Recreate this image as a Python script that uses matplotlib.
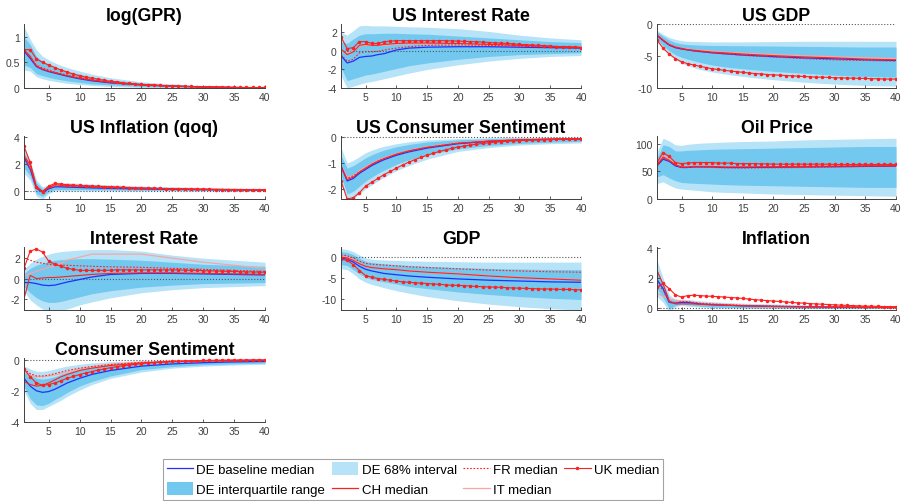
import matplotlib.pyplot as plt
from matplotlib.patches import Patch
from matplotlib.lines import Line2D

plt.rcParams['font.family'] = ['Liberation Sans', 'DejaVu Sans']

# horizons
H = [1, 2, 3, 4, 5, 6, 7, 8, 10, 12, 15, 20, 25, 30, 35, 40]
H_UK = list(range(1, 41))

# log(GPR)
gpr_hi68 = [1.2, 0.95, 0.75, 0.62, 0.55, 0.49, 0.44, 0.40, 0.33, 0.27, 0.2, 0.12, 0.08, 0.05, 0.03, 0.02]
gpr_lo68 = [0.35, 0.33, 0.22, 0.18, 0.15, 0.13, 0.11, 0.09, 0.07, 0.05, 0.03, 0.01, 0.0, 0.0, 0.0, 0.0]
gpr_hi50 = [1.0, 0.85, 0.62, 0.52, 0.46, 0.41, 0.37, 0.33, 0.27, 0.22, 0.16, 0.1, 0.06, 0.04, 0.02, 0.01]
gpr_lo50 = [0.45, 0.4, 0.28, 0.24, 0.21, 0.18, 0.16, 0.14, 0.11, 0.08, 0.06, 0.03, 0.02, 0.01, 0.005, 0.0]
gpr_de = [0.72, 0.58, 0.42, 0.36, 0.32, 0.29, 0.26, 0.23, 0.18, 0.14, 0.1, 0.06, 0.035, 0.02, 0.01, 0.005]
gpr_ch = [0.75, 0.62, 0.43, 0.37, 0.33, 0.3, 0.27, 0.24, 0.19, 0.15, 0.11, 0.06, 0.04, 0.02, 0.01, 0.005]
gpr_fr = [0.72, 0.6, 0.45, 0.39, 0.35, 0.31, 0.28, 0.25, 0.2, 0.16, 0.11, 0.06, 0.035, 0.02, 0.01, 0.005]
gpr_it = [0.74, 0.6, 0.44, 0.38, 0.34, 0.3, 0.27, 0.24, 0.19, 0.15, 0.11, 0.06, 0.035, 0.02, 0.01, 0.005]
gpr_uk = [0.75, 0.75, 0.57, 0.5, 0.45, 0.4, 0.35, 0.31, 0.27, 0.24, 0.21, 0.19, 0.17, 0.15, 0.13, 0.12,
          0.1, 0.09, 0.08, 0.07, 0.065, 0.06, 0.05, 0.045, 0.04, 0.035, 0.03, 0.03, 0.025, 0.02,
          0.02, 0.02, 0.015, 0.015, 0.01, 0.01, 0.01, 0.01, 0.01, 0.01]

# US Interest Rate
usr_hi68 = [2.0, 1.7, 2.2, 2.7, 2.75, 2.7, 2.7, 2.7, 2.65, 2.6, 2.55, 2.4, 2.1, 1.7, 1.4, 1.2]
usr_lo68 = [-2.7, -4.0, -3.8, -3.6, -3.4, -3.3, -3.15, -3.0, -2.7, -2.4, -2.0, -1.5, -1.1, -0.8, -0.6, -0.5]
usr_hi50 = [1.0, 0.8, 1.3, 1.7, 1.85, 1.85, 1.88, 1.9, 1.9, 1.85, 1.8, 1.6, 1.4, 1.2, 1.0, 0.9]
usr_lo50 = [-1.8, -3.2, -3.0, -2.8, -2.6, -2.5, -2.35, -2.2, -1.9, -1.6, -1.3, -0.9, -0.6, -0.4, -0.3, -0.2]
usr_de = [-0.5, -1.3, -1.1, -0.7, -0.6, -0.55, -0.4, -0.3, 0.1, 0.3, 0.4, 0.45, 0.45, 0.4, 0.35, 0.3]
usr_fr = [-0.4, -1.1, -0.9, -0.2, -0.1, -0.1, -0.05, 0.1, 0.3, 0.45, 0.6, 0.65, 0.6, 0.5, 0.4, 0.35]
usr_ch = [0.2, -0.4, -0.1, 0.6, 0.7, 0.6, 0.6, 0.7, 0.8, 0.85, 0.85, 0.8, 0.7, 0.6, 0.5, 0.4]
usr_it = [0.0, -0.3, 0.0, 0.5, 0.6, 0.6, 0.6, 0.6, 0.7, 0.75, 0.75, 0.7, 0.6, 0.5, 0.45, 0.4]
usr_uk = [1.5, 0.25, 0.35, 1.0, 1.0, 0.8, 0.8, 1.0, 1.05, 1.1, 1.1, 1.1, 1.1, 1.1, 1.1, 1.1,
          1.1, 1.1, 1.08, 1.05, 1.03, 1.0, 0.98, 0.95, 0.9, 0.87, 0.84, 0.8, 0.77, 0.7,
          0.67, 0.63, 0.6, 0.57, 0.5, 0.47, 0.44, 0.41, 0.38, 0.35]

# US GDP
usg_hi68 = [-1.0, -1.6, -2.1, -2.4, -2.6, -2.7, -2.72, -2.75, -2.8, -2.8, -2.8, -2.75, -2.7, -2.7, -2.7, -2.7]
usg_lo68 = [-2.8, -3.8, -4.8, -5.6, -6.1, -6.5, -6.8, -7.1, -7.5, -7.8, -8.2, -8.7, -9.1, -9.4, -9.6, -9.7]
usg_hi50 = [-1.2, -1.9, -2.5, -2.9, -3.1, -3.2, -3.25, -3.3, -3.35, -3.38, -3.4, -3.45, -3.5, -3.55, -3.6, -3.6]
usg_lo50 = [-2.4, -3.4, -4.2, -4.8, -5.2, -5.5, -5.75, -6.0, -6.4, -6.7, -7.0, -7.4, -7.7, -8.0, -8.2, -8.3]
usg_de = [-1.8, -2.6, -3.3, -3.7, -3.9, -4.05, -4.2, -4.3, -4.5, -4.65, -4.85, -5.1, -5.3, -5.45, -5.6, -5.7]
usg_fr = [-1.8, -2.6, -3.3, -3.7, -3.9, -4.05, -4.2, -4.3, -4.5, -4.65, -4.9, -5.15, -5.4, -5.6, -5.7, -5.8]
usg_ch = [-1.7, -2.5, -3.2, -3.6, -3.8, -4.0, -4.1, -4.2, -4.4, -4.5, -4.7, -4.95, -5.15, -5.3, -5.5, -5.6]
usg_it = [-1.6, -2.5, -3.2, -3.6, -3.8, -3.95, -4.05, -4.1, -4.25, -4.4, -4.55, -4.75, -4.95, -5.1, -5.25, -5.4]
usg_uk = [-2.5, -3.8, -4.7, -5.4, -5.9, -6.2, -6.4, -6.6, -6.8, -7.0, -7.1, -7.25, -7.35, -7.45, -7.55, -7.65,
          -7.75, -7.8, -7.9, -7.95, -8.0, -8.05, -8.1, -8.15, -8.2, -8.25, -8.3, -8.3, -8.35, -8.4,
          -8.4, -8.45, -8.45, -8.5, -8.5, -8.55, -8.55, -8.6, -8.6, -8.6]

# US Inflation (qoq)
usi_hi68 = [3.2, 2.2, 0.8, 0.3, 0.45, 0.6, 0.6, 0.6, 0.55, 0.5, 0.45, 0.35, 0.3, 0.25, 0.2, 0.18]
usi_lo68 = [1.3, 0.8, -0.4, -0.6, -0.2, 0.0, 0.0, 0.0, 0.0, 0.0, 0.0, 0.0, 0.0, 0.0, 0.0, 0.0]
usi_hi50 = [2.9, 2.0, 0.6, 0.15, 0.35, 0.5, 0.5, 0.5, 0.45, 0.42, 0.38, 0.3, 0.25, 0.2, 0.17, 0.15]
usi_lo50 = [1.7, 1.1, -0.2, -0.4, -0.05, 0.1, 0.1, 0.1, 0.1, 0.08, 0.07, 0.05, 0.04, 0.03, 0.02, 0.02]
usi_de = [2.5, 1.6, 0.2, -0.1, 0.15, 0.3, 0.3, 0.28, 0.25, 0.22, 0.18, 0.14, 0.11, 0.09, 0.07, 0.06]
usi_ch = [2.6, 1.9, 0.3, -0.05, 0.25, 0.45, 0.42, 0.4, 0.36, 0.32, 0.27, 0.2, 0.15, 0.12, 0.1, 0.08]
usi_fr = [2.4, 1.6, 0.2, -0.1, 0.2, 0.35, 0.35, 0.32, 0.3, 0.27, 0.22, 0.17, 0.13, 0.1, 0.08, 0.07]
usi_it = [2.7, 1.8, 0.25, -0.05, 0.2, 0.4, 0.4, 0.37, 0.33, 0.3, 0.25, 0.19, 0.15, 0.12, 0.1, 0.08]
usi_uk = [3.3, 2.1, 0.3, -0.05, 0.35, 0.55, 0.5, 0.45, 0.43, 0.4, 0.38, 0.36, 0.34, 0.32, 0.3, 0.28,
          0.26, 0.24, 0.22, 0.21, 0.2, 0.19, 0.18, 0.17, 0.16, 0.15, 0.14, 0.13, 0.12, 0.12,
          0.11, 0.1, 0.1, 0.09, 0.09, 0.08, 0.08, 0.07, 0.07, 0.07]

# US Consumer Sentiment
usc_hi68 = [-0.4, -1.0, -0.9, -0.75, -0.6, -0.5, -0.42, -0.35, -0.25, -0.18, -0.1, -0.05, -0.02, -0.01, 0.0, 0.0]
usc_lo68 = [-1.8, -2.45, -2.4, -2.2, -2.0, -1.85, -1.7, -1.55, -1.3, -1.1, -0.85, -0.55, -0.4, -0.3, -0.25, -0.22]
usc_hi50 = [-0.7, -1.2, -1.1, -0.95, -0.8, -0.68, -0.58, -0.5, -0.37, -0.28, -0.18, -0.1, -0.05, -0.03, -0.02, -0.01]
usc_lo50 = [-1.5, -2.2, -2.1, -1.9, -1.7, -1.55, -1.4, -1.28, -1.05, -0.88, -0.68, -0.45, -0.32, -0.24, -0.19, -0.16]
usc_de = [-1.1, -1.7, -1.6, -1.4, -1.25, -1.1, -0.98, -0.87, -0.7, -0.57, -0.42, -0.25, -0.16, -0.11, -0.08, -0.07]
usc_ch = [-1.15, -1.65, -1.55, -1.35, -1.2, -1.05, -0.93, -0.83, -0.66, -0.53, -0.39, -0.23, -0.15, -0.1, -0.07, -0.06]
usc_fr = [-1.2, -1.6, -1.5, -1.35, -1.2, -1.05, -0.93, -0.83, -0.66, -0.53, -0.39, -0.23, -0.15, -0.1, -0.07, -0.06]
usc_it = [-1.1, -1.55, -1.5, -1.3, -1.15, -1.02, -0.9, -0.8, -0.64, -0.52, -0.38, -0.22, -0.14, -0.1, -0.07, -0.06]
usc_uk = [-1.7, -2.4, -2.35, -2.15, -1.9, -1.75, -1.6, -1.45, -1.33, -1.2, -1.08, -0.97, -0.87, -0.78, -0.7, -0.62,
          -0.55, -0.49, -0.43, -0.38, -0.34, -0.3, -0.27, -0.24, -0.21, -0.19, -0.17, -0.15, -0.14, -0.13,
          -0.12, -0.11, -0.1, -0.09, -0.09, -0.08, -0.08, -0.07, -0.07, -0.07]

# Oil Price
oil_hi68 = [85, 110, 105, 98, 97, 99, 100, 101, 102, 103, 104, 105, 107, 108, 109, 110]
oil_lo68 = [28, 31, 25, 20, 18, 17, 16, 15, 13, 12, 11, 9, 8, 7, 6, 5]
oil_hi50 = [75, 98, 95, 87, 87, 88, 88.5, 89, 90, 90.5, 91, 92, 93, 94, 95, 95]
oil_lo50 = [40, 44, 38, 33, 30, 29, 28.5, 28, 27, 26, 25, 24, 23, 22, 21, 21]
oil_de = [60, 72, 68, 60, 57, 57, 58, 58, 58, 57, 57, 57.5, 58, 58.5, 59, 59.5]
oil_ch = [62, 76, 70, 62, 58, 58, 59, 59, 59, 58, 58, 58.5, 59, 59.5, 60, 60]
oil_fr = [60, 74, 69, 61, 57, 57, 58, 58, 57, 56.5, 56, 56.5, 57, 58, 59, 60]
oil_it = [62, 78, 72, 63, 59, 59, 60, 60, 60, 59, 59, 59.5, 60, 60.5, 61, 61]
oil_uk = [66, 84, 77, 66, 64, 65, 66, 66, 66, 66, 65, 65, 65, 64, 64, 64,
          64, 63.5, 63.5, 63, 63, 63, 63, 63, 63, 63, 63, 63, 63, 62.5,
          62.5, 62.5, 62.5, 62.5, 62.5, 62.5, 62.5, 62.5, 62.5, 62.5]

# Interest Rate
ir_hi68 = [0.9, 1.5, 1.9, 2.2, 2.4, 2.55, 2.65, 2.7, 2.8, 2.85, 2.85, 2.7, 2.3, 2.0, 1.8, 1.6]
ir_lo68 = [-1.2, -2.1, -2.6, -3.0, -3.2, -3.2, -3.1, -3.0, -2.6, -2.3, -1.9, -1.4, -1.1, -0.9, -0.8, -0.7]
ir_hi50 = [0.5, 1.0, 1.3, 1.5, 1.7, 1.8, 1.85, 1.9, 1.95, 1.95, 1.9, 1.8, 1.6, 1.4, 1.3, 1.2]
ir_lo50 = [-0.8, -1.4, -1.9, -2.2, -2.35, -2.35, -2.25, -2.1, -1.8, -1.5, -1.2, -0.85, -0.65, -0.5, -0.45, -0.4]
ir_de = [-0.4, -0.4, -0.5, -0.65, -0.7, -0.65, -0.5, -0.35, -0.1, 0.15, 0.4, 0.5, 0.5, 0.45, 0.4, 0.35]
ir_fr = [2.0, 1.8, 1.6, 1.5, 1.4, 1.35, 1.32, 1.3, 1.25, 1.2, 1.15, 1.1, 1.0, 0.9, 0.8, 0.7]
ir_ch = [-2.0, 0.3, 0.0, 0.05, 0.1, 0.1, 0.15, 0.2, 0.3, 0.4, 0.5, 0.55, 0.55, 0.5, 0.45, 0.4]
ir_it = [0.2, 0.5, 0.7, 0.9, 1.1, 1.2, 1.5, 1.8, 2.1, 2.4, 2.4, 2.4, 2.0, 1.6, 1.3, 1.0]
ir_uk = [1.0, 2.7, 2.9, 2.6, 1.7, 1.4, 1.2, 1.0, 0.9, 0.8, 0.8, 0.8, 0.8, 0.8, 0.82, 0.85,
         0.85, 0.85, 0.85, 0.85, 0.85, 0.85, 0.85, 0.85, 0.85, 0.85, 0.82, 0.8, 0.8, 0.78,
         0.75, 0.75, 0.72, 0.7, 0.7, 0.68, 0.65, 0.65, 0.62, 0.62]

# GDP
gdp_hi68 = [2.0, 1.8, 1.3, 0.5, -0.2, -0.5, -0.6, -0.7, -0.8, -0.9, -1.0, -1.1, -1.2, -1.2, -1.2, -1.2]
gdp_lo68 = [-2.8, -3.0, -4.0, -5.2, -6.0, -6.5, -6.9, -7.3, -8.0, -8.6, -9.4, -10.4, -11.2, -11.8, -12.3, -12.6]
gdp_hi50 = [1.3, 1.1, 0.6, -0.3, -1.0, -1.3, -1.45, -1.6, -1.8, -2.0, -2.2, -2.5, -2.7, -2.85, -2.95, -3.0]
gdp_lo50 = [-1.8, -2.0, -3.0, -4.0, -4.8, -5.3, -5.6, -5.9, -6.4, -7.0, -7.5, -8.3, -8.9, -9.4, -9.8, -10.1]
gdp_de = [-0.3, -0.5, -1.2, -2.2, -2.9, -3.3, -3.6, -3.9, -4.2, -4.5, -4.8, -5.2, -5.5, -5.7, -5.9, -6.0]
gdp_fr = [0.5, 0.3, -0.2, -1.0, -1.5, -1.7, -1.8, -1.9, -2.1, -2.3, -2.5, -2.8, -3.1, -3.3, -3.5, -3.6]
gdp_ch = [0.0, -0.2, -0.8, -1.6, -2.2, -2.5, -2.65, -2.8, -3.0, -3.3, -3.6, -4.0, -4.5, -4.9, -5.2, -5.5]
gdp_it = [0.2, 0.0, -0.6, -1.5, -2.2, -2.5, -2.65, -2.8, -3.0, -3.3, -3.6, -4.0, -4.5, -4.9, -5.2, -5.4]
gdp_uk = [-0.5, -0.8, -1.8, -3.2, -4.4, -4.8, -5.1, -5.3, -5.5, -5.7, -5.9, -6.0, -6.1, -6.2, -6.3, -6.4,
          -6.5, -6.6, -6.7, -6.75, -6.8, -6.9, -7.0, -7.05, -7.1, -7.15, -7.2, -7.3, -7.35, -7.4,
          -7.45, -7.5, -7.55, -7.6, -7.6, -7.65, -7.7, -7.7, -7.75, -7.8]

# Inflation
inf_hi68 = [3.2, 2.0, 0.9, 0.6, 0.6, 0.6, 0.55, 0.5, 0.45, 0.4, 0.35, 0.3, 0.25, 0.2, 0.18, 0.15]
inf_lo68 = [0.8, 0.4, -0.2, 0.1, 0.2, 0.15, 0.12, 0.1, 0.05, 0.03, 0.02, 0.01, 0.0, 0.0, 0.0, 0.0]
inf_hi50 = [2.6, 1.6, 0.7, 0.5, 0.5, 0.5, 0.42, 0.38, 0.33, 0.3, 0.25, 0.2, 0.17, 0.14, 0.12, 0.1]
inf_lo50 = [1.3, 0.7, 0.0, 0.2, 0.3, 0.25, 0.2, 0.15, 0.1, 0.08, 0.06, 0.04, 0.03, 0.02, 0.02, 0.02]
inf_de = [1.9, 1.3, 0.4, 0.35, 0.4, 0.4, 0.35, 0.3, 0.25, 0.22, 0.18, 0.14, 0.11, 0.09, 0.08, 0.07]
inf_ch = [2.5, 1.6, 0.5, 0.3, 0.3, 0.3, 0.3, 0.27, 0.24, 0.21, 0.17, 0.13, 0.1, 0.08, 0.07, 0.06]
inf_fr = [1.7, 1.2, 0.4, 0.4, 0.45, 0.45, 0.4, 0.35, 0.3, 0.26, 0.21, 0.16, 0.12, 0.1, 0.08, 0.07]
inf_it = [1.0, 0.8, 0.6, 0.55, 0.5, 0.45, 0.4, 0.35, 0.3, 0.26, 0.21, 0.16, 0.12, 0.1, 0.08, 0.07]
inf_uk = [1.4, 1.65, 1.3, 0.9, 0.75, 0.85, 0.87, 0.85, 0.82, 0.8, 0.78, 0.75, 0.72, 0.7, 0.66, 0.62,
          0.58, 0.55, 0.52, 0.49, 0.46, 0.43, 0.4, 0.37, 0.35, 0.32, 0.3, 0.28, 0.26, 0.24,
          0.22, 0.2, 0.19, 0.17, 0.16, 0.15, 0.14, 0.13, 0.12, 0.12]

# Consumer Sentiment
cs_hi68 = [-0.4, -0.6, -0.75, -0.75, -0.7, -0.6, -0.5, -0.42, -0.3, -0.22, -0.14, -0.07, -0.04, -0.02, -0.01, -0.01]
cs_lo68 = [-2.0, -2.8, -3.2, -3.2, -3.0, -2.8, -2.6, -2.35, -1.95, -1.6, -1.2, -0.8, -0.55, -0.42, -0.35, -0.3]
cs_hi50 = [-0.7, -1.0, -1.2, -1.25, -1.2, -1.1, -0.95, -0.82, -0.6, -0.45, -0.3, -0.16, -0.1, -0.06, -0.04, -0.03]
cs_lo50 = [-1.7, -2.5, -2.9, -2.95, -2.8, -2.55, -2.35, -2.1, -1.7, -1.4, -1.05, -0.65, -0.45, -0.33, -0.27, -0.23]
cs_de = [-1.2, -1.7, -2.0, -2.1, -2.05, -1.9, -1.7, -1.5, -1.2, -0.95, -0.7, -0.42, -0.28, -0.2, -0.15, -0.12]
cs_ch = [-1.4, -1.6, -1.7, -1.65, -1.5, -1.3, -1.1, -0.95, -0.7, -0.55, -0.38, -0.22, -0.14, -0.09, -0.07, -0.05]
cs_fr = [-0.6, -0.9, -1.05, -1.05, -1.0, -0.9, -0.8, -0.7, -0.55, -0.45, -0.32, -0.18, -0.11, -0.07, -0.05, -0.04]
cs_it = [-0.8, -1.0, -1.1, -1.1, -1.05, -0.98, -0.9, -0.8, -0.6, -0.45, -0.3, -0.17, -0.1, -0.06, -0.04, -0.03]
cs_uk = [-0.6, -1.1, -1.5, -1.65, -1.6, -1.5, -1.35, -1.2, -1.08, -0.96, -0.86, -0.77, -0.68, -0.6, -0.52, -0.46,
         -0.4, -0.35, -0.3, -0.26, -0.22, -0.19, -0.16, -0.14, -0.12, -0.1, -0.09, -0.08, -0.07, -0.06,
         -0.05, -0.05, -0.04, -0.04, -0.03, -0.03, -0.03, -0.02, -0.02, -0.02]

titles = ['log(GPR)', 'US Interest Rate', 'US GDP', 'US Inflation (qoq)', 'US Consumer Sentiment',
          'Oil Price', 'Interest Rate', 'GDP', 'Inflation', 'Consumer Sentiment']

panels = [
    (gpr_hi68, gpr_lo68, gpr_hi50, gpr_lo50, gpr_de, gpr_fr, gpr_ch, gpr_it, gpr_uk),
    (usr_hi68, usr_lo68, usr_hi50, usr_lo50, usr_de, usr_fr, usr_ch, usr_it, usr_uk),
    (usg_hi68, usg_lo68, usg_hi50, usg_lo50, usg_de, usg_fr, usg_ch, usg_it, usg_uk),
    (usi_hi68, usi_lo68, usi_hi50, usi_lo50, usi_de, usi_fr, usi_ch, usi_it, usi_uk),
    (usc_hi68, usc_lo68, usc_hi50, usc_lo50, usc_de, usc_fr, usc_ch, usc_it, usc_uk),
    (oil_hi68, oil_lo68, oil_hi50, oil_lo50, oil_de, oil_fr, oil_ch, oil_it, oil_uk),
    (ir_hi68, ir_lo68, ir_hi50, ir_lo50, ir_de, ir_fr, ir_ch, ir_it, ir_uk),
    (gdp_hi68, gdp_lo68, gdp_hi50, gdp_lo50, gdp_de, gdp_fr, gdp_ch, gdp_it, gdp_uk),
    (inf_hi68, inf_lo68, inf_hi50, inf_lo50, inf_de, inf_fr, inf_ch, inf_it, inf_uk),
    (cs_hi68, cs_lo68, cs_hi50, cs_lo50, cs_de, cs_fr, cs_ch, cs_it, cs_uk),
]

ylims = [(0, 1.25), (-4, 2.9), (-10, 0), (-0.6, 4.05), (-2.4, 0.05),
         (0, 114), (-3.1, 3.1), (-12.6, 2.4), (-0.1, 4.05), (-4, 0.1)]
yticks = [[0, 0.5, 1], [-4, -2, 0, 2], [-10, -5, 0], [0, 2, 4], [-2, -1, 0],
          [0, 50, 100], [-2, 0, 2], [-10, -5, 0], [0, 2, 4], [-4, -2, 0]]

# pixel layout (left, top, right, bottom)
W, Hpx = 901, 502
cols = [(24, 265), (341, 581), (657, 896)]
rows = [(25, 89), (137, 200), (248, 311), (359, 423)]

C68 = '#b6e3f7'
C50 = '#72c8ee'
BLUE = '#2030ff'
RED = '#ff2020'
PINK = '#f7a5a5'

fig = plt.figure(figsize=(W / 100, Hpx / 100), dpi=100)

for k, (hi68, lo68, hi50, lo50, de, fr, ch, it, uk) in enumerate(panels):
    r, c = divmod(k, 3)
    x0, x1 = cols[c]
    y0, y1 = rows[r]
    ax = fig.add_axes([x0 / W, 1 - y1 / Hpx, (x1 - x0) / W, (y1 - y0) / Hpx])
    ax.fill_between(H, lo68, hi68, color=C68, lw=0)
    ax.fill_between(H, lo50, hi50, color=C50, lw=0)
    ax.axhline(0, color='#555555', ls=':', lw=0.8)
    ax.plot(H, it, color=PINK, lw=0.9)
    ax.plot(H, de, color=BLUE, lw=0.9)
    ax.plot(H, ch, color=RED, lw=0.8)
    ax.plot(H, fr, color=RED, lw=0.8, ls=(0, (1.5, 1.5)))
    ax.plot(H_UK, uk, color=RED, lw=0.8, marker='.', markersize=3)
    ax.set_xlim(1, 40)
    ax.set_ylim(*ylims[k])
    ax.set_xticks([5, 10, 15, 20, 25, 30, 35, 40])
    ax.set_yticks(yticks[k])
    ax.set_yticklabels(['%g' % v for v in yticks[k]])
    ax.tick_params(direction='in', length=2, width=0.6, labelsize=7.5, colors='#404040', pad=3)
    for s in ['top', 'right']:
        ax.spines[s].set_visible(False)
    for s in ['left', 'bottom']:
        ax.spines[s].set_color('#404040')
        ax.spines[s].set_linewidth(0.7)
    ax.set_title(titles[k], fontsize=12.8, fontweight='bold', pad=3)

handles = [
    Line2D([], [], color=BLUE, lw=0.9),
    Patch(facecolor=C50, edgecolor='none'),
    Patch(facecolor=C68, edgecolor='none'),
    Line2D([], [], color=RED, lw=0.9),
    Line2D([], [], color=RED, lw=0.8, ls=(0, (1.5, 1.5))),
    Line2D([], [], color=PINK, lw=0.9),
    Line2D([], [], color=RED, lw=0.8, marker='.', markersize=3),
]
labels = ['DE baseline median', 'DE interquartile range', 'DE 68% interval', 'CH median',
          'FR median', 'IT median', 'UK median']
leg = fig.legend(handles, labels, ncol=4, loc='lower center', bbox_to_anchor=(413 / W, 1 / Hpx),
                 fontsize=9.5, frameon=True, fancybox=False, edgecolor='#8c8c8c',
                 borderpad=0.3, handlelength=2.0, handleheight=1.1, handletextpad=0.25,
                 columnspacing=0.5, labelspacing=0.45, borderaxespad=0)
leg.get_frame().set_linewidth(0.8)

fig.savefig('out.png', dpi=100)
